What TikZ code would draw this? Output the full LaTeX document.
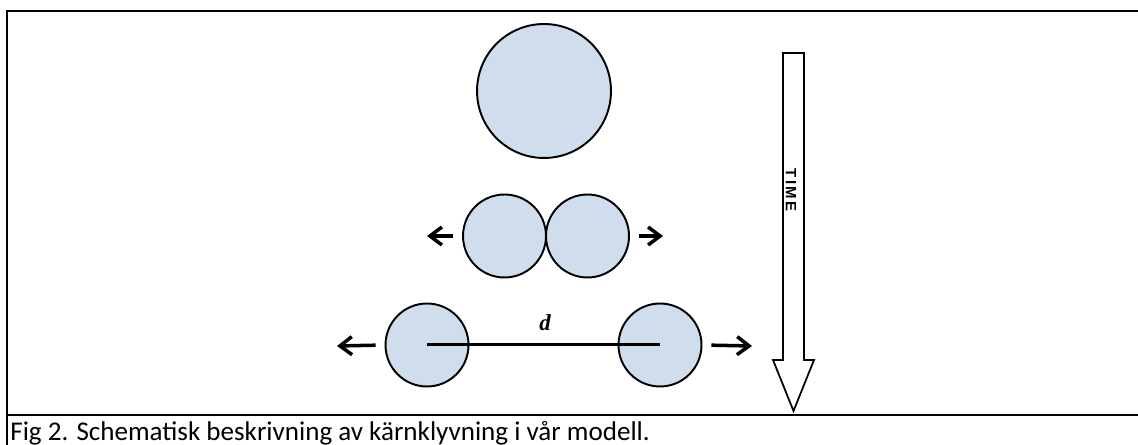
\documentclass[tikz,border=0pt]{standalone}
\usepackage{fontspec}
\setmainfont{Carlito}
\newfontfamily\timefont{Liberation Sans}
\newfontfamily\dfont{Liberation Serif}
\usetikzlibrary{arrows.meta}
\definecolor{nucleus}{RGB}{208,221,236}
\begin{document}
\begin{tikzpicture}
  [x=0.02cm,y=-0.02cm,every node/.style={inner sep=0}]
  \tikzstyle{frame} = [line width=0.045cm]
  \tikzstyle{big} = [circle,draw,fill=nucleus,line width=1.1pt,minimum size=2.68cm]
  \tikzstyle{small} = [circle,draw,fill=nucleus,line width=1.1pt,minimum size=1.66cm]
  \tikzstyle{push} = [line width=0.07cm,shorten <=0.18cm,-{Straight Barb[length=0.24cm,width=0.36cm]}]
  \useasboundingbox (0,0) rectangle (1138,445);
  % frame of the figure
  \draw[frame] (1138,11) -- (7,11) -- (7,445);
  \draw[frame] (7,415) -- (1138,415);
  % nuclei
  \node[big]   (n0) at (544,91)    {};
  \node[small] (m1) at (504.5,236) {};
  \node[small] (m2) at (587.5,236) {};
  \node[small] (b1) at (427,345)   {};
  \node[small] (b2) at (660,345)   {};
  \draw[line width=0.06cm] (b1.center) -- (b2.center);
  \node (d) at (545,323) {\dfont\fontsize{13}{14}\selectfont\bfseries\itshape d};
  % fragments moving apart
  \coordinate (ml) at (427,236);
  \coordinate (mr) at (663,236);
  \coordinate (bl) at (337,346);
  \coordinate (br) at (752,346);
  \foreach \source /\dest in {m1.west/ml,m2.east/mr,b1.west/bl,b2.east/br}
   \draw[push] (\source) -- (\dest);
  % time arrow
  \draw[line width=1pt] (783,53) -- (804,53) -- (804,360) -- (814,360)
    -- (793.5,411) -- (773,360) -- (783,360) -- cycle;
  \node[rotate=-90] (time) at (791,190) {\timefont\fontsize{8.5}{9}\selectfont\bfseries T\,I\,M\,E};
  \node[anchor=base west] (cap) at (10,440)
    {\fontsize{15.4}{18}\selectfont Fig 2. Schematisk beskrivning av kärnklyvning i vår modell.};
\end{tikzpicture}
\end{document}
